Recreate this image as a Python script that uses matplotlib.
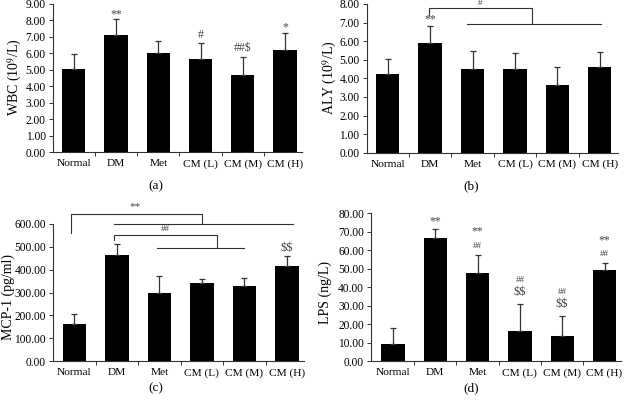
import matplotlib
matplotlib.use("Agg")
import matplotlib.pyplot as plt
import numpy as np

plt.rcParams['font.family'] = ['Liberation Serif', 'DejaVu Serif']
plt.rcParams['mathtext.fontset'] = 'stix'

categories = ["Normal", "DM", "Met", "CM (L)", "CM (M)", "CM (H)"]

wbc_mean = [5.05, 7.10, 6.05, 5.69, 4.68, 6.19]
wbc_err = [0.90, 0.98, 0.69, 0.93, 1.11, 1.06]
wbc_marks = ["", "**", "", "#", "##$", "*"]

aly_mean = [4.23, 5.88, 4.48, 4.48, 3.62, 4.61]
aly_err = [0.81, 0.95, 1.01, 0.90, 1.01, 0.79]
aly_marks = ["", "**", "", "", "", ""]

mcp_mean = [163, 464, 299, 343, 327, 415]
mcp_err = [41, 48, 73, 15, 36, 43]
mcp_marks = ["", "", "", "", "", "$$"]

lps_mean = [9.2, 66.8, 47.9, 16.6, 13.5, 49.2]
lps_err = [8.6, 4.7, 9.6, 14.2, 10.8, 4.0]
lps_marks_top = ["", "**", "**", "##", "##", "**"]
lps_marks_bot = ["", "", "##", "$$", "$$", "##"]

W, H = 626, 401
fig = plt.figure(figsize=(W / 100, H / 100), dpi=100)

LINE = '#333333'
MARK = '#444444'


def px_axes(l, r, top, bottom):
    return fig.add_axes([l / W, 1 - bottom / H, (r - l) / W, (bottom - top) / H])


def draw_panel(ax, means, errs, ymax, step, xlim):
    x = np.arange(len(categories))
    ax.bar(x, means, width=0.55, color='black', zorder=2)
    lower = np.zeros(len(errs))
    ax.errorbar(x, means, yerr=[lower, errs], fmt='none', ecolor=LINE,
                elinewidth=0.9, capsize=2, capthick=0.9, zorder=3)
    ax.set_xlim(*xlim)
    ax.set_ylim(0, ymax)
    ticks = np.arange(0, ymax + step / 2, step)
    ax.set_yticks(ticks)
    ax.set_yticklabels([f"{v:.2f}" for v in ticks])
    ax.set_xticks(x)
    ax.set_xticklabels(categories)
    ax.set_xticks(np.arange(0.5, len(categories) - 0.5, 1), minor=True)
    ax.tick_params(axis='x', which='major', length=0, pad=5, labelsize=8.2)
    ax.tick_params(axis='x', which='minor', length=3, width=0.7, color=LINE, direction='out')
    ax.tick_params(axis='y', length=3, width=0.7, color=LINE, direction='out', labelsize=8.3, pad=2)
    for s in ['top', 'right']:
        ax.spines[s].set_visible(False)
    for s in ['left', 'bottom']:
        ax.spines[s].set_color(LINE)
        ax.spines[s].set_linewidth(0.8)
    return x


def bracket(ax, pts):
    xs, ys = zip(*pts)
    ax.plot(xs, ys, color=LINE, lw=0.8, clip_on=False, zorder=4)


def mark(ax, x, y, s, fs):
    ax.text(x, y, s, ha='center', va='center', fontsize=fs, color=MARK,
            clip_on=False, parse_math=False)


# (a)
axa = px_axes(52.7, 302, 4, 152.3)
xa = draw_panel(axa, wbc_mean, wbc_err, 9, 1, (-0.5, 5.4))
marks_y_a = [0, 8.40, 0, 7.13, 6.32, 7.57]
for i, m in enumerate(wbc_marks):
    if m:
        mark(axa, xa[i], marks_y_a[i], m, 8.5)

# (b)
axb = px_axes(366.5, 618, 4, 152.7)
xb = draw_panel(axb, aly_mean, aly_err, 8, 1, (-0.5, 5.43))
mark(axb, xb[1], 7.15, aly_marks[1], 8.5)
bracket(axb, [(0.97, 7.41), (0.97, 7.77), (3.40, 7.77), (3.40, 6.92)])
bracket(axb, [(1.88, 6.92), (5.04, 6.92)])
mark(axb, 2.18, 8.05, "#", 6.5)

# (c)
axc = px_axes(53, 304, 224, 361)
xc = draw_panel(axc, mcp_mean, mcp_err, 600, 100, (-0.5, 5.4))
mark(axc, xc[5], 493, mcp_marks[5], 9)
bracket(axc, [(-0.08, 559), (-0.08, 644), (3.0, 644), (3.0, 600)])
bracket(axc, [(0.94, 600), (5.15, 600)])
bracket(axc, [(0.94, 530), (0.94, 552), (3.36, 552), (3.36, 493)])
bracket(axc, [(1.94, 493), (3.99, 493)])
mark(axc, 1.43, 674, "**", 8)
mark(axc, 2.13, 578, "##", 6.5)

# (d)
axd = px_axes(371, 621, 213.3, 361.3)
xd = draw_panel(axd, lps_mean, lps_err, 80, 10, (-0.52, 5.39))
top_y = [0, 75.5, 70.1, 44.1, 37.7, 65.6]
bot_y = [0, 0, 62.3, 37.3, 31.2, 57.8]
for i in range(len(categories)):
    if lps_marks_top[i]:
        fs = 6.5 if lps_marks_top[i] == "##" else 8.5
        mark(axd, xd[i], top_y[i], lps_marks_top[i], fs)
    if lps_marks_bot[i]:
        fs = 6.5 if lps_marks_bot[i] == "##" else 9
        mark(axd, xd[i], bot_y[i], lps_marks_bot[i], fs)

# y labels
YL = 10
fig.text(15 / W, 1 - 77 / H, "WBC (10$^{9}$/L)", rotation=90, ha='center', va='center', fontsize=YL)
fig.text(330 / W, 1 - 78 / H, "ALY (10$^{9}$/L)", rotation=90, ha='center', va='center', fontsize=YL)
fig.text(8 / W, 1 - 297 / H, "MCP-1 (pg/ml)", rotation=90, ha='center', va='center', fontsize=YL)
fig.text(325 / W, 1 - 293 / H, "LPS (ng/L)", rotation=90, ha='center', va='center', fontsize=YL)

# panel labels
for lx, ly, t in [(156, 186, "(a)"), (471, 186, "(b)"), (156, 388, "(c)"), (471, 388, "(d)")]:
    fig.text(lx / W, 1 - ly / H, t, ha='center', va='center', fontsize=9.5)

fig.savefig("out.png", dpi=100)
